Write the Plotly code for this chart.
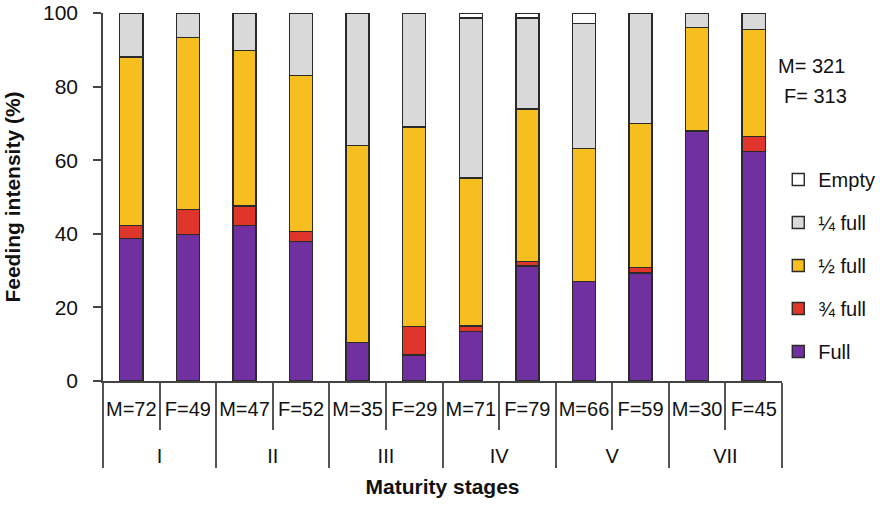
import plotly.graph_objects as go

stages = ["I", "I", "II", "II", "III", "III", "IV", "IV", "V", "V", "VII", "VII"]
samples = ["M=72", "F=49", "M=47", "F=52", "M=35", "F=29",
           "M=71", "F=79", "M=66", "F=59", "M=30", "F=45"]

full = [38.8, 39.8, 42.2, 37.9, 10.5, 7.1, 13.5, 31.3, 27.0, 29.4, 67.9, 62.4]
three_quarter = [3.5, 6.8, 5.4, 2.8, 0.0, 7.7, 1.4, 1.2, 0.0, 1.5, 0.0, 4.0]
half = [45.7, 46.7, 42.2, 42.3, 53.5, 54.2, 40.3, 41.4, 36.1, 39.0, 28.1, 29.1]
quarter = [12.0, 6.7, 10.2, 17.0, 36.0, 31.0, 43.4, 24.7, 34.0, 30.1, 4.0, 4.5]
empty = [0.0, 0.0, 0.0, 0.0, 0.0, 0.0, 1.4, 1.4, 2.9, 0.0, 0.0, 0.0]

series = [
    ("Full", full, "#7030A0"),
    ("¾ full", three_quarter, "#E0352B"),
    ("½ full", half, "#F6BE1F"),
    ("¼ full", quarter, "#D9D9D9"),
    ("Empty", empty, "#FFFFFF"),
]

FONT = "Liberation Sans, Arial, Helvetica, sans-serif"

# inner labels get a blank second line so the stage row sits lower
inner_labels = [s + "<br><span style='font-size:49px'> </span>" for s in samples]

fig = go.Figure()
for i, (name, vals, color) in enumerate(series):
    fig.add_trace(go.Bar(
        x=[stages, inner_labels], y=vals, name=name, legendgroup=name,
        legendrank=len(series) - i,
        marker=dict(color=color, line=dict(color="#2a2a2a", width=1.4)),
    ))

fig.update_layout(
    width=880, height=505,
    barmode="stack", bargap=0.593,
    paper_bgcolor="white", plot_bgcolor="white",
    margin=dict(l=103, r=98, t=13, b=124, autoexpand=False),
    font=dict(family=FONT, color="#111", size=20),
    showlegend=True,
    legend=dict(traceorder="grouped", tracegroupgap=14,
                x=0.9945, xanchor="left", y=0.314, yanchor="middle",
                font=dict(size=20, family=FONT), bgcolor="rgba(0,0,0,0)"),
    xaxis=dict(
        type="multicategory", automargin=False, showline=True, linecolor="#444", linewidth=1.5,
        ticks="outside", ticklen=47, tickwidth=1.5, tickcolor="#555",
        tickson="boundaries", showdividers=True, dividercolor="#555",
        dividerwidth=1.5, tickfont=dict(size=20, family=FONT), tickangle=0,
        ticklabelstandoff=9,
        title=dict(text="<b>Maturity stages</b>", font=dict(size=21, family=FONT), standoff=14),
        showgrid=False,
    ),
    yaxis=dict(
        range=[0, 100], tickvals=[0, 20, 40, 60, 80, 100], showline=True, automargin=False,
        linecolor="#444", linewidth=1.5, ticks="outside", ticklen=8,
        tickwidth=1.5, tickcolor="#444", showgrid=False, zeroline=False,
        tickfont=dict(size=21, family=FONT), ticklabelstandoff=11,
        ticklabeloverflow="allow",
        title=dict(text="<b>Feeding intensity (%)</b>", font=dict(size=21, family=FONT), standoff=17),
    ),
)

fig.add_annotation(text="M= 321", x=0.9916, xref="paper", y=0.856, yref="paper",
                   xanchor="left", yanchor="middle", showarrow=False,
                   font=dict(size=20, family=FONT))
fig.add_annotation(text="F= 313", x=1.0004, xref="paper", y=0.774, yref="paper",
                   xanchor="left", yanchor="middle", showarrow=False,
                   font=dict(size=20, family=FONT))

# remove the browser's default 8px body margin so the figure sits at the page origin
fig.write_html("out.html", config={"displayModeBar": False},
               post_script="document.body.style.margin='0px';")
